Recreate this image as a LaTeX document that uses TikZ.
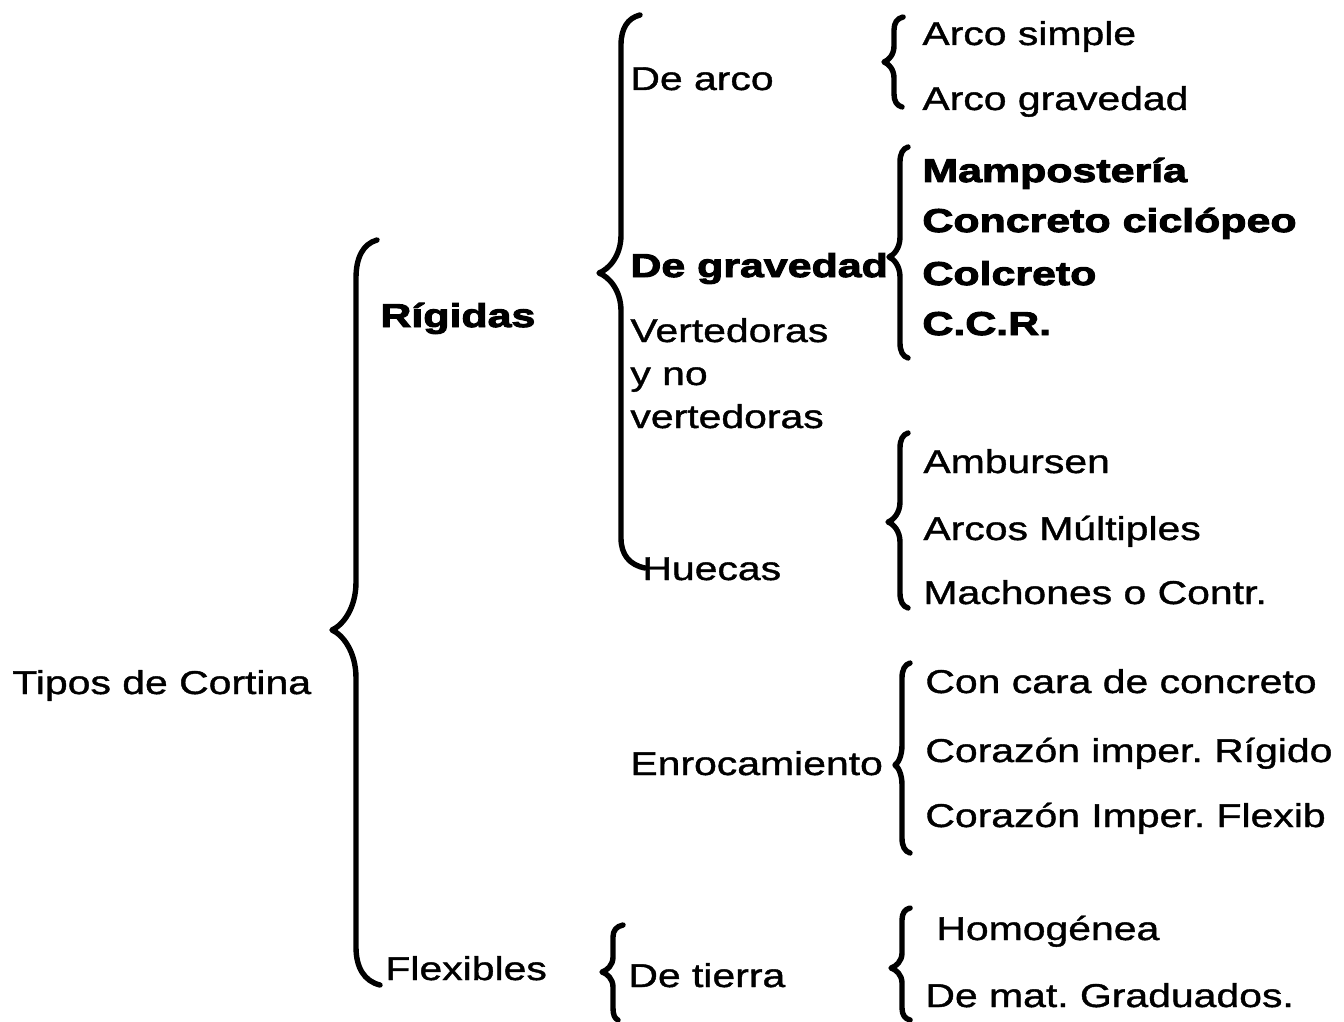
\documentclass[tikz,border=0pt]{standalone}
\usepackage{fontspec}
\setmainfont{Liberation Sans}[FakeStretch=1.24, FakeBold=1.2]
\newfontfamily\negrita{Liberation Sans}[FakeStretch=1.30, FakeBold=3]
\usetikzlibrary{positioning}
\frenchspacing

% llave: tallo x, arriba y, punta y, abajo y, gancho arriba x, gancho abajo x, punta x, largo gancho, largo punta
\newcommand{\llave}[9]{%
  \draw[brace] (#5,#2)
    .. controls ({#1+0.35*(#5-#1)},{#2+0.1*#8}) and (#1,{#2+0.45*#8}) .. (#1,{#2+#8})
    -- (#1,{#3-#9})
    .. controls (#1,{#3-0.45*#9}) and ({#7+0.45*(#1-#7)},{#3-0.1*#9}) .. (#7,#3)
    .. controls ({#7+0.45*(#1-#7)},{#3+0.1*#9}) and (#1,{#3+0.45*#9}) .. (#1,{#3+#9})
    -- (#1,{#4-#8})
    .. controls (#1,{#4-0.45*#8}) and ({#1+0.35*(#6-#1)},{#4-0.1*#8}) .. (#6,#4);}

\begin{document}
\begin{tikzpicture}[x=0.5pt, y=-0.5pt,
    every node/.style={
        inner sep=0pt,
        anchor=base west,
        font=\fontsize{16.5}{19}\selectfont
    },
    fuerte/.style={font=\fontsize{16.5}{19}\selectfont\negrita\bfseries},
    brace/.style={line width=2.7pt, line cap=round, line join=round}]

    \useasboundingbox (0,0) rectangle (1344,1022);

    % Primer nivel
    \node (tipos) at (12,694) {Tipos de Cortina};
    \node[fuerte] (rigidas) at (380,327) {Rígidas};
    \node (flexibles) at (385,980) {Flexibles};

    % Segundo nivel
    \node (dearco) at (630,90) {De arco};
    \node[fuerte] (degravedad) at (630,277) {De gravedad};
    \node (vert) at (630,342) {Vertedoras};
    \node (yno) at (630,385) {y no};
    \node (novert) at (630,428) {vertedoras};
    \node (huecas) at (642,580) {Huecas};
    \node (enroc) at (630,775) {Enrocamiento};
    \node (detierra) at (628,987) {De tierra};

    % Tercer nivel
    \node (simple) at (922,45) {Arco simple};
    \node (arcograv) at (922,110) {Arco gravedad};
    \node[fuerte] (mamp) at (922,182) {Mampostería};
    \node[fuerte] (ciclop) at (922,232) {Concreto ciclópeo};
    \node[fuerte] (colcreto) at (922,285) {Colcreto};
    \node[fuerte] (ccr) at (922,335) {C.C.R.};
    \node (ambursen) at (923,473) {Ambursen};
    \node (multiples) at (923,540) {Arcos Múltiples};
    \node (machones) at (923,604) {Machones o Contr.};
    \node (concara) at (925,693) {Con cara de concreto};
    \node (corrig) at (925,762) {Corazón imper. Rígido};
    \node (corflex) at (925,827) {Corazón Imper. Flexib};
    \node (homog) at (936,940) {Homogénea};
    \node (graduados) at (925,1007) {De mat. Graduados.};

    % Llaves
    \llave{356}{240}{630}{985}{377}{380}{332}{38}{48}
    \llave{621}{15}{273}{568}{640}{645}{599}{30}{38}
    \llave{894}{17}{62}{107}{903}{902}{884}{13}{16}
    \llave{900}{147}{257}{358}{908}{908}{889}{15}{20}
    \llave{900}{433}{522}{608}{908}{908}{888}{15}{20}
    \llave{902}{663}{765}{853}{910}{910}{895}{15}{20}
    \llave{613}{925}{972}{1020}{623}{618}{602}{12}{15}
    \llave{902}{908}{968}{1020}{910}{910}{891}{12}{15}
\end{tikzpicture}
\end{document}
